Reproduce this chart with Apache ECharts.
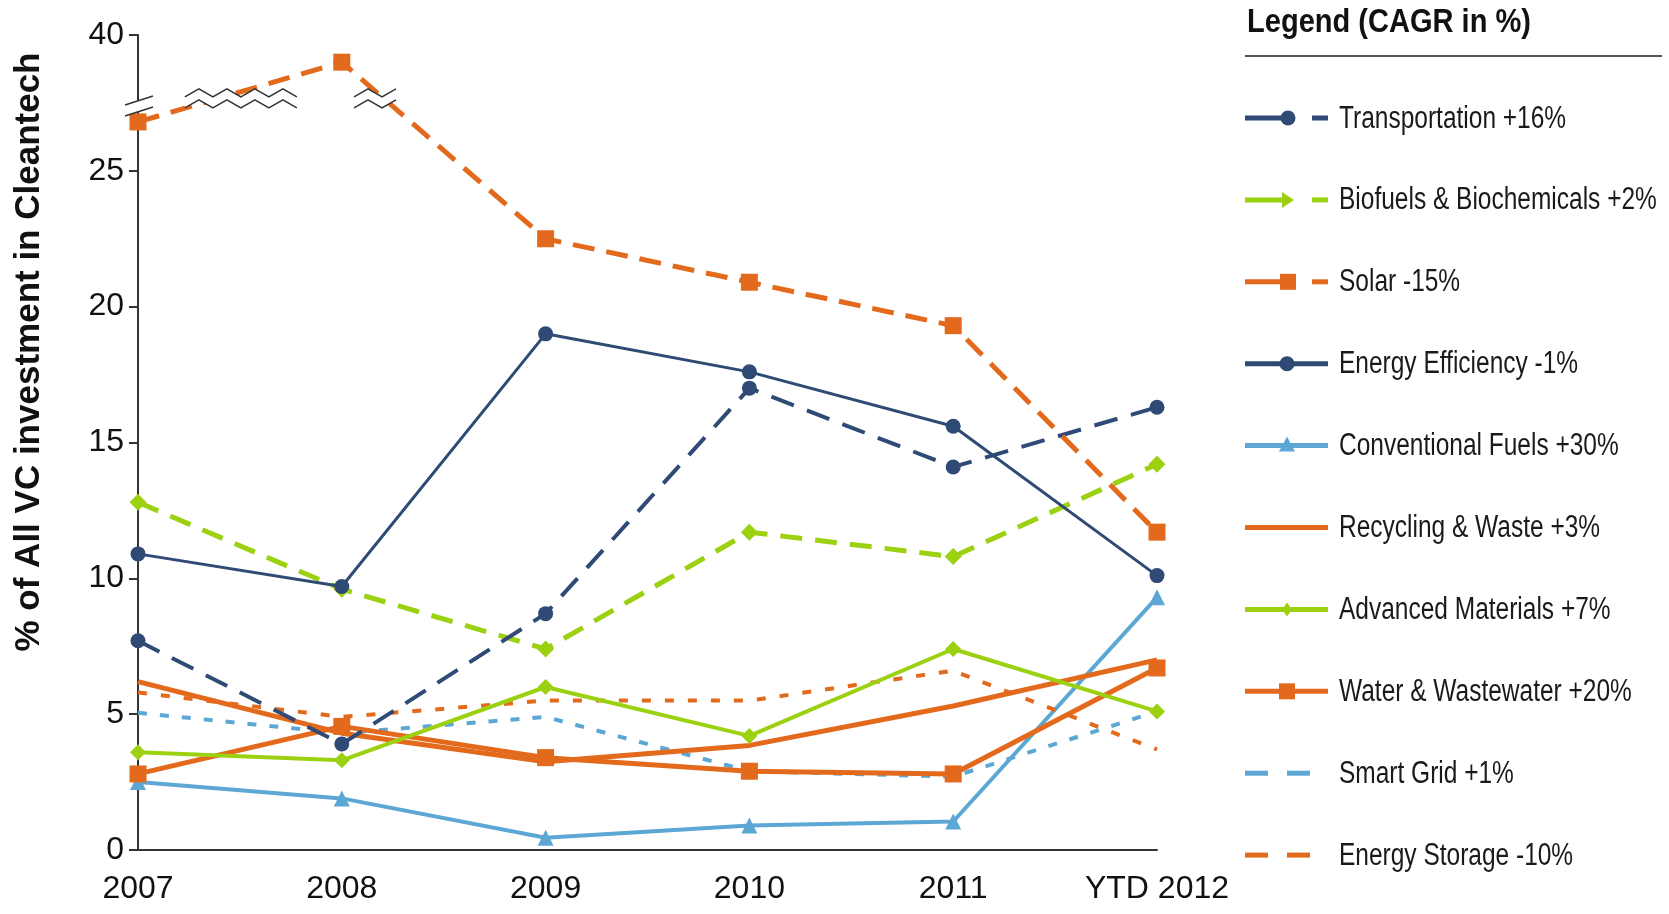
<!DOCTYPE html>
<html>
<head>
<meta charset="utf-8">
<script src="https://cdn.jsdelivr.net/npm/echarts@6/dist/echarts.min.js"></script>
<style>
  html, body { margin: 0; padding: 0; background: #fff; }
  #chart { width: 1669px; height: 914px; }
</style>
</head>
<body>
<div id="chart"></div>
<script>
// categories
const years = ['2007', '2008', '2009', '2010', '2011', 'YTD 2012'];

// % of all VC investment in cleantech, per sector
const transportation    = [7.7, 3.9, 8.7, 17.0, 14.1, 16.3];
const biofuels          = [12.8, 9.6, 7.4, 11.7, 10.8, 14.2];
const solar             = [26.8, 39.0, 22.5, 20.9, 19.3, 11.7];
const energyEfficiency  = [10.9, 9.7, 19.0, 17.6, 15.6, 10.1];
const conventionalFuels = [2.5, 1.9, 0.45, 0.9, 1.05, 9.3];
const recycling         = [6.2, 4.3, 3.25, 3.85, 5.3, 7.0];
const advancedMaterials = [3.6, 3.3, 6.0, 4.2, 7.4, 5.1];
const water             = [2.8, 4.55, 3.4, 2.9, 2.8, 6.7];
const smartGrid         = [5.05, 4.3, 4.9, 2.9, 2.7, 5.1];
const energyStorage     = [5.8, 4.9, 5.5, 5.5, 6.6, 3.7];

// legend labels (CAGR)
const legendLabels = [
  'Transportation +16%', 'Biofuels & Biochemicals +2%', 'Solar -15%',
  'Energy Efficiency -1%', 'Conventional Fuels +30%', 'Recycling & Waste +3%',
  'Advanced Materials +7%', 'Water & Wastewater +20%', 'Smart Grid +1%',
  'Energy Storage -10%'
];

// y tick labels; the axis is broken between 28 and 38
const yTicks = ['0', '5', '10', '15', '20', '25', '40'];
const BREAK_AT = 28;     // values above this are shifted down
const BREAK_SHIFT = 10;  // 38..40 drawn at 28..30

const NAVY = '#2E4A75';
const GREEN = '#9CD112';
const ORANGE = '#E36A1C';
const LBLUE = '#5DA7D5';
const SANS = "'Liberation Sans', Arial, sans-serif";

const toAxis = v => (v > BREAK_AT ? v - BREAK_SHIFT : v);

const chart = echarts.init(document.getElementById('chart'));

// series style table
const seriesDefs = [
  { name: legendLabels[4], data: conventionalFuels, color: LBLUE, width: 4, type: 'solid', symbol: 'triangle', size: 16 },
  { name: legendLabels[8], data: smartGrid, color: LBLUE, width: 4, type: [9, 13], symbol: 'none' },
  { name: legendLabels[9], data: energyStorage, color: ORANGE, width: 4, type: [9, 14], symbol: 'none' },
  { name: legendLabels[5], data: recycling, color: ORANGE, width: 5, type: 'solid', symbol: 'none' },
  { name: legendLabels[7], data: water, color: ORANGE, width: 5, type: 'solid', symbol: 'rect', size: 17 },
  { name: legendLabels[6], data: advancedMaterials, color: GREEN, width: 4, type: 'solid', symbol: 'diamond', size: 16 },
  { name: legendLabels[1], data: biofuels, color: GREEN, width: 5, type: [22, 13], symbol: 'diamond', size: 17 },
  { name: legendLabels[0], data: transportation, color: NAVY, width: 4, type: [24, 14], symbol: 'circle', size: 15 },
  { name: legendLabels[3], data: energyEfficiency, color: NAVY, width: 3, type: 'solid', symbol: 'circle', size: 15 },
  { name: legendLabels[2], data: solar, color: ORANGE, width: 5, type: [22, 12], symbol: 'rect', size: 17 }
];

const option = {
  animation: false,
  grid: { left: 138, right: 512, top: 35, bottom: 64 },
  xAxis: {
    type: 'category',
    data: years,
    boundaryGap: false,
    axisLine: { lineStyle: { color: '#333', width: 2 } },
    axisTick: { show: false },
    axisLabel: { color: '#111', fontFamily: SANS, fontSize: 32, margin: 23 }
  },
  yAxis: {
    type: 'value',
    min: 0,
    max: 30,
    interval: 5,
    splitLine: { show: false },
    axisLine: { show: true, lineStyle: { color: '#333', width: 2 } },
    axisTick: { show: true, length: 9, lineStyle: { color: '#333', width: 2 } },
    axisLabel: {
      color: '#111', fontFamily: SANS, fontSize: 32, margin: 14,
      formatter: v => yTicks[Math.round(v / 5)]
    }
  },
  series: seriesDefs.map(d => ({
    type: 'line',
    name: d.name,
    data: d.data.map(toAxis),
    symbol: d.symbol,
    symbolSize: d.size || 0,
    showSymbol: d.symbol !== 'none',
    itemStyle: { color: d.color },
    lineStyle: { color: d.color, width: d.width, type: d.type }
  }))
};

chart.setOption(option);

// ---- decorations: break marks, y title, legend ----
const graphics = [];

// break marks
const xAt = f => {
  const a = chart.convertToPixel({ xAxisIndex: 0 }, 0);
  const b = chart.convertToPixel({ xAxisIndex: 0 }, 1);
  return a + (b - a) * f;
};
const yBreak = chart.convertToPixel({ yAxisIndex: 0 }, 27.5);
const axisX = xAt(0);

// slashes across the y axis
graphics.push({
  type: 'polygon', z: 100,
  shape: { points: [[axisX - 13, yBreak + 2], [axisX + 15, yBreak - 7], [axisX + 15, yBreak + 4], [axisX - 13, yBreak + 13]] },
  style: { fill: '#fff' }
});
[0, 11].forEach(off => graphics.push({
  type: 'line', z: 101,
  shape: { x1: axisX - 13, y1: yBreak + 2 + off, x2: axisX + 15, y2: yBreak - 7 + off },
  style: { stroke: '#333', lineWidth: 1.5 }
}));

// zigzag bands over the solar line
function zigzag(x0, x1, yTop) {
  const step = 14;
  const up = [], low = [];
  let i = 0;
  for (let x = x0; x <= x1 + 0.1; x += step, i++) {
    const dy = i % 2 === 0 ? 8 : 0;
    up.push([x, yTop + dy]);
    low.push([x, yTop + dy + 11]);
  }
  graphics.push({ type: 'polygon', z: 100, shape: { points: up.concat(low.slice().reverse()) }, style: { fill: '#fff' } });
  graphics.push({ type: 'polyline', z: 101, shape: { points: up }, style: { stroke: '#333', lineWidth: 1.5, fill: null } });
  graphics.push({ type: 'polyline', z: 101, shape: { points: low }, style: { stroke: '#333', lineWidth: 1.5, fill: null } });
}
zigzag(xAt(0.23), xAt(0.79), yBreak - 14);
zigzag(xAt(1.06), xAt(1.29), yBreak - 14);

// y axis title
graphics.push({
  type: 'text', z: 10,
  rotation: Math.PI / 2,
  x: 29, y: 352,
  style: {
    text: '% of All VC investment in Cleantech',
    font: 'bold 35px ' + SANS,
    fill: '#111', align: 'center', verticalAlign: 'middle'
  }
});

// legend
const LX = 1245;
graphics.push({
  type: 'text', z: 10, x: LX + 2, y: 23, scaleX: 0.88,
  style: { text: 'Legend (CAGR in %)', font: 'bold 33px ' + SANS, fill: '#111', verticalAlign: 'middle' }
});
graphics.push({
  type: 'line', z: 10,
  shape: { x1: LX, y1: 56, x2: 1662, y2: 56 },
  style: { stroke: '#555', lineWidth: 2 }
});

const legendIcons = [
  { color: NAVY, kind: 'endDash', marker: 'circle' },
  { color: GREEN, kind: 'endDash', marker: 'arrow' },
  { color: ORANGE, kind: 'endDash', marker: 'rect' },
  { color: NAVY, kind: 'mid', marker: 'circle' },
  { color: LBLUE, kind: 'mid', marker: 'triangle' },
  { color: ORANGE, kind: 'mid', marker: 'none' },
  { color: GREEN, kind: 'mid', marker: 'diamond' },
  { color: ORANGE, kind: 'mid', marker: 'rect' },
  { color: LBLUE, kind: 'dashes', marker: 'none' },
  { color: ORANGE, kind: 'dashes', marker: 'none' }
];

function marker(type, cx, cy, color) {
  if (type === 'circle') return { type: 'circle', z: 11, shape: { cx, cy, r: 7.5 }, style: { fill: color } };
  if (type === 'rect') return { type: 'rect', z: 11, shape: { x: cx - 8, y: cy - 8, width: 16, height: 16 }, style: { fill: color } };
  if (type === 'triangle') return { type: 'polygon', z: 11, shape: { points: [[cx, cy - 9], [cx + 8, cy + 6], [cx - 8, cy + 6]] }, style: { fill: color } };
  if (type === 'diamond') return { type: 'polygon', z: 11, shape: { points: [[cx, cy - 7], [cx + 5, cy], [cx, cy + 7], [cx - 5, cy]] }, style: { fill: color } };
  if (type === 'arrow') return { type: 'polygon', z: 11, shape: { points: [[cx - 6, cy - 8], [cx + 6, cy], [cx - 6, cy + 8]] }, style: { fill: color } };
  return null;
}

legendLabels.forEach((label, i) => {
  const y = 118 + i * 81.9;
  const ic = legendIcons[i];
  const seg = (x1, x2, w) => graphics.push({ type: 'line', z: 10, shape: { x1, y1: y, x2, y2: y }, style: { stroke: ic.color, lineWidth: w } });
  if (ic.kind === 'endDash') {
    seg(LX, 1288, 5);
    seg(1312, 1328, 5);
    const m = marker(ic.marker, 1288, y, ic.color);
    if (m) graphics.push(m);
  } else if (ic.kind === 'mid') {
    seg(LX, 1328, 5);
    const m = marker(ic.marker, 1287, y, ic.color);
    if (m) graphics.push(m);
  } else {
    seg(LX, 1268, 5);
    seg(1287, 1310, 5);
  }
  graphics.push({
    type: 'text', z: 10, x: 1339, y: y + 1, scaleX: 0.79,
    style: { text: label, font: '31px ' + SANS, fill: '#1a1a1a', verticalAlign: 'middle' }
  });
});

chart.setOption({ graphic: graphics });
</script>
</body>
</html>
